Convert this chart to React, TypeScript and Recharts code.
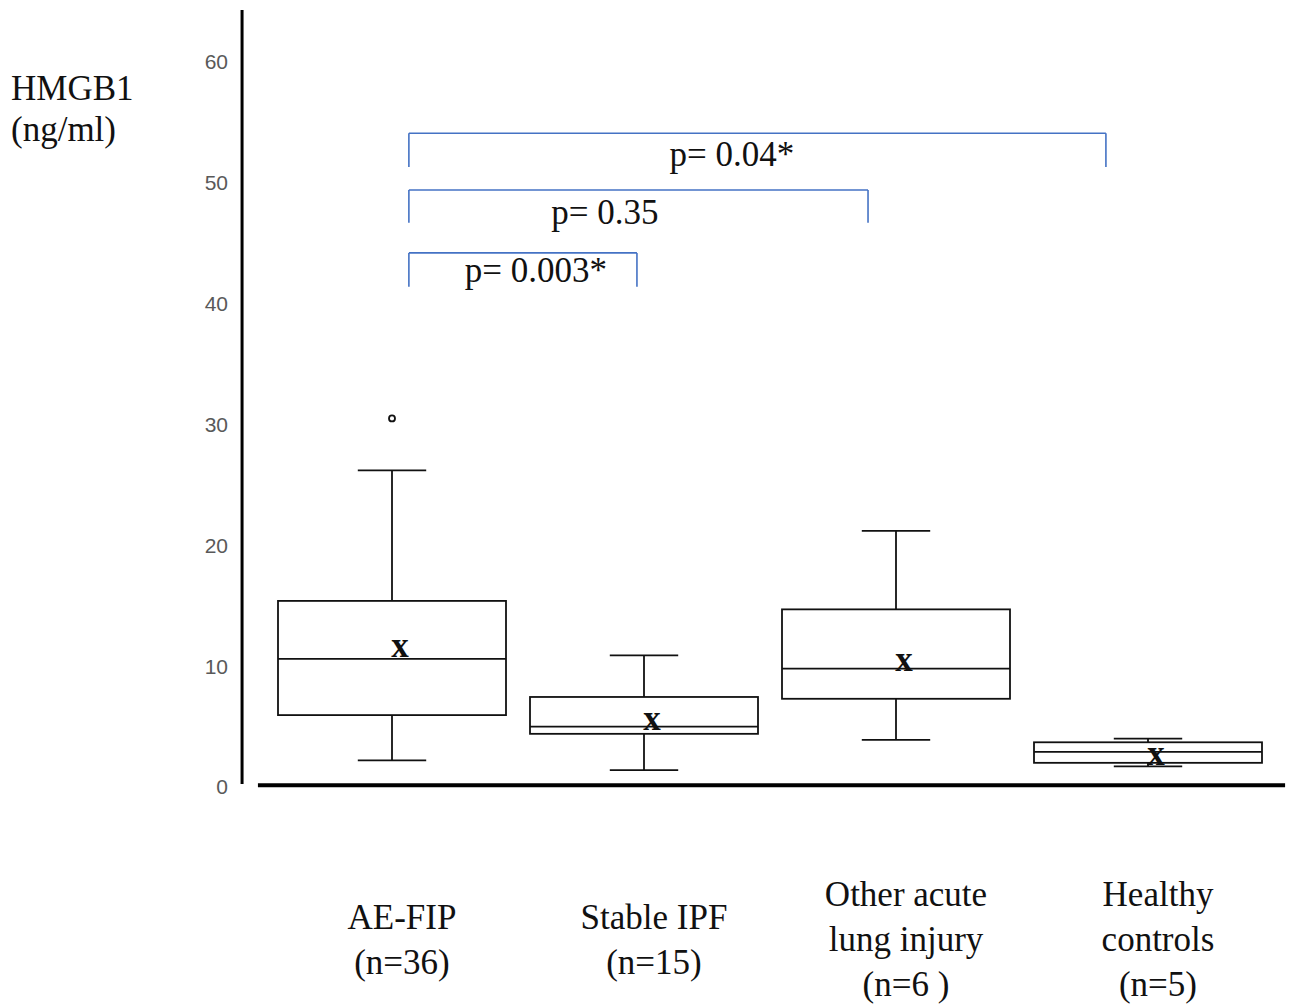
import { Bar, ComposedChart, ReferenceDot, ReferenceLine, Scatter, XAxis, YAxis } from 'recharts';

const categories = ['AE-FIP', 'Stable IPF', 'Other acute lung injury', 'Healthy controls'];
const categoryLines = [
  ['AE-FIP', '(n=36)'],
  ['Stable IPF', '(n=15)'],
  ['Other acute', 'lung injury', '(n=6 )'],
  ['Healthy', 'controls', '(n=5)'],
];
const minVals = [2.2, 1.4, 3.9, 1.7];
const q1Vals = [5.95, 4.4, 7.3, 2.0];
const medianVals = [10.6, 5.0, 9.8, 2.9];
const q3Vals = [15.4, 7.45, 14.7, 3.7];
const maxVals = [26.2, 10.9, 21.2, 4.0];
const meanVals = [11.4, 5.4, 10.3, 2.5];
const outlierVals = [30.5, null, null, null];

const yTicks = [0, 10, 20, 30, 40, 50, 60];

// significance brackets, x in category units (1..4)
const bracketFrom = [1.067, 1.067, 1.067];
const bracketTo = [1.972, 2.889, 3.833];
const bracketTop = [44.2, 49.4, 54.1];
const bracketFoot = [41.4, 46.7, 51.3];
const pLabels = ['p= 0.003*', 'p= 0.35', 'p= 0.04*'];
const pLabelX = [1.571, 1.845, 2.349];
const pLabelY = [41.8, 46.6, 51.4];

const data = categories.map((name, i) => ({
  name,
  range: [minVals[i], maxVals[i]],
  min: minVals[i],
  q1: q1Vals[i],
  median: medianVals[i],
  q3: q3Vals[i],
  max: maxVals[i],
  mean: meanVals[i],
  outlier: outlierVals[i],
}));

const SERIF = '"Liberation Serif", "Times New Roman", serif';
const BLUE = '#4472C4';

function BoxShape(props: any) {
  const { x, y, width, height, payload } = props;
  if (!payload) return null;
  const top = Math.min(y, y + height);
  const h = Math.abs(height);
  const ppu = h / (payload.max - payload.min);
  const py = (v: number) => top + (payload.max - v) * ppu;
  const cx = x + width / 2;
  const cap = width * 0.15;
  const sw = 1.8;
  return (
    <g stroke="#111" strokeWidth={sw} fill="none">
      <line x1={cx} x2={cx} y1={py(payload.max)} y2={py(payload.q3)} />
      <line x1={cx} x2={cx} y1={py(payload.q1)} y2={py(payload.min)} />
      <line x1={cx - cap} x2={cx + cap} y1={py(payload.max)} y2={py(payload.max)} />
      <line x1={cx - cap} x2={cx + cap} y1={py(payload.min)} y2={py(payload.min)} />
      <rect x={x} y={py(payload.q3)} width={width} height={py(payload.q1) - py(payload.q3)} fill="#fff" />
      <line x1={x} x2={x + width} y1={py(payload.median)} y2={py(payload.median)} />
    </g>
  );
}

function MeanMark(props: any) {
  const { cx, cy } = props;
  if (cx == null || cy == null || isNaN(cy)) return <g />;
  return (
    <text x={cx + 8} y={cy + 8} textAnchor="middle" fontFamily={SERIF} fontSize={35} fontWeight={600} fill="#111">
      x
    </text>
  );
}

function OutlierMark(props: any) {
  const { cx, cy, payload } = props;
  if (!payload || payload.outlier == null || cy == null || isNaN(cy)) return <g />;
  return <circle cx={cx} cy={cy} r={3} fill="#fff" stroke="#111" strokeWidth={1.8} />;
}

function CategoryTick(props: any) {
  const { x, y, payload } = props;
  const idx = categories.indexOf(payload.value);
  const lines = categoryLines[idx] || [payload.value];
  const first = y + 164 - (lines.length - 1) * 22.5;
  return (
    <g>
      {lines.map((ln, i) => (
        <text key={i} x={x + 10} y={first + i * 45} textAnchor="middle" fontFamily={SERIF} fontSize={35} fill="#111">
          {ln}
        </text>
      ))}
    </g>
  );
}

function YTitle() {
  return (
    <text fontFamily={SERIF} fontSize={35} fill="#111">
      <tspan x={11} y={100}>HMGB1</tspan>
      <tspan x={11} y={141}>(ng/ml)</tspan>
    </text>
  );
}

export default function App() {
  return (
    <div style={{ position: 'absolute', left: 0, top: 0, width: 1291, height: 1006, background: '#fff' }}>
      <ComposedChart width={1291} height={1006} data={data} margin={{ top: 10, right: 17, left: 0, bottom: 19 }}>
        <XAxis
          dataKey="name"
          axisLine={false}
          tickLine={false}
          tickSize={0}
          tickMargin={0}
          height={200}
          interval={0}
          tick={<CategoryTick />}
        />
        <XAxis xAxisId="num" type="number" dataKey="x" domain={[0.5, 4.5]} hide allowDataOverflow />
        <YAxis
          domain={[0, 64.3]}
          ticks={yTicks}
          width={266}
          axisLine={false}
          tickLine={false}
          tickSize={0}
          tickMargin={38}
          tick={{ fill: '#595959', fontSize: 21, fontFamily: '"Liberation Sans", Arial, sans-serif' }}
          label={{ content: <YTitle /> }}
        />
        <Bar dataKey="range" barSize={228} shape={<BoxShape />} isAnimationActive={false} />
        <Scatter dataKey="mean" shape={<MeanMark />} isAnimationActive={false} />
        <Scatter dataKey="outlier" shape={<OutlierMark />} isAnimationActive={false} />

        {/* y axis line and heavy baseline */}
        <ReferenceLine
          xAxisId="num"
          segment={[{ x: 0.405, y: 0.25 }, { x: 0.405, y: 64.3 }]}
          stroke="#000"
          strokeWidth={3}
          ifOverflow="visible"
        />
        <ReferenceLine
          xAxisId="num"
          segment={[{ x: 0.468, y: 0.15 }, { x: 4.544, y: 0.15 }]}
          stroke="#000"
          strokeWidth={4}
          ifOverflow="visible"
        />

        {bracketFrom.map((from, i) => (
          <ReferenceLine
            key={'t' + i}
            xAxisId="num"
            segment={[{ x: from, y: bracketTop[i] }, { x: bracketTo[i], y: bracketTop[i] }]}
            stroke={BLUE}
            strokeWidth={1.6}
            ifOverflow="visible"
          />
        ))}
        {bracketFrom.map((from, i) => (
          <ReferenceLine
            key={'l' + i}
            xAxisId="num"
            segment={[{ x: from, y: bracketTop[i] }, { x: from, y: bracketFoot[i] }]}
            stroke={BLUE}
            strokeWidth={1.6}
            ifOverflow="visible"
          />
        ))}
        {bracketTo.map((to, i) => (
          <ReferenceLine
            key={'r' + i}
            xAxisId="num"
            segment={[{ x: to, y: bracketTop[i] }, { x: to, y: bracketFoot[i] }]}
            stroke={BLUE}
            strokeWidth={1.6}
            ifOverflow="visible"
          />
        ))}
        {pLabels.map((txt, i) => (
          <ReferenceDot
            key={'p' + i}
            xAxisId="num"
            x={pLabelX[i]}
            y={pLabelY[i]}
            ifOverflow="visible"
            shape={(p: any) => (
              <text x={p.cx} y={p.cy} textAnchor="middle" fontFamily={SERIF} fontSize={35} fill="#111">
                {txt}
              </text>
            )}
          />
        ))}
      </ComposedChart>
    </div>
  );
}
